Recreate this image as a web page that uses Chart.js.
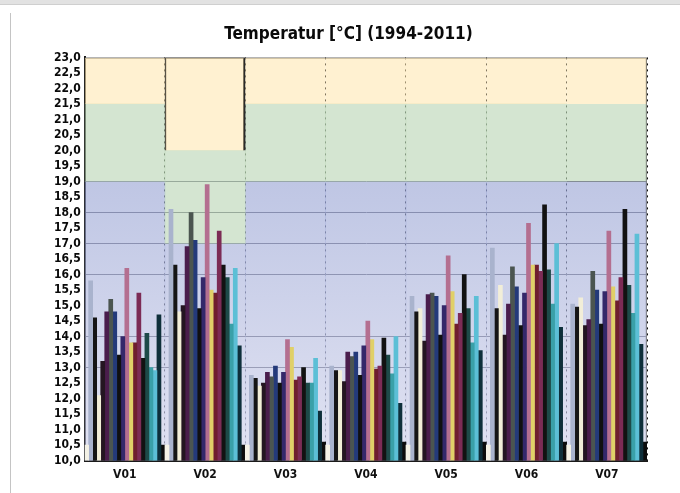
<!DOCTYPE html>
<html>
<head>
<meta charset="utf-8">
<script src="https://cdn.jsdelivr.net/npm/chart.js@4.4.1/dist/chart.umd.min.js"></script>
<style>
  html, body { margin: 0; padding: 0; background: #ffffff; }
  #wrap { position: relative; width: 680px; height: 493px; overflow: hidden; }
  #topstrip { position: absolute; left: 0; top: 0; width: 680px; height: 4px; background: #e2e2e2; border-bottom: 1px solid #cfcfcf; }
  #leftline { position: absolute; left: 10px; top: 13px; width: 1px; height: 480px; background: #c4c4c4; }
  canvas { position: absolute; left: 0; top: 0; }
</style>
</head>
<body>
<div id="wrap">
  <canvas id="c" width="680" height="493"></canvas>
  <div id="topstrip"></div>
  <div id="leftline"></div>
</div>
<script>
// ---- data ----
const categories = ['V01', 'V02', 'V03', 'V04', 'V05', 'V06', 'V07'];
const years = ['1994','1995','1996','1997','1998','1999','2000','2001','2002',
               '2003','2004','2005','2006','2007','2008','2009','2010','2011'];

// temperature per group (one value per year, 1994..2011)
const v01 = [15.8, 14.6, 12.1, 13.2, 14.8, 15.2, 14.8, 13.4, 14.0, 16.2, 13.8, 13.8, 15.4, 13.3, 14.1, 13.0, 12.9, 14.7];
const v02 = [18.1, 16.3, 14.8, 15.0, 16.9, 18.0, 17.1, 14.9, 15.9, 18.9, 15.5, 15.4, 17.4, 16.3, 15.9, 14.4, 16.2, 13.7];
const v03 = [12.75, 12.65, 12.4, 12.5, 12.85, 12.7, 13.05, 12.5, 12.85, 13.9, 13.65, 12.6, 12.7, 13.0, 12.5, 12.5, 13.3, 11.6];
const v04 = [13.05, 12.9, 12.9, 12.55, 13.5, 13.35, 13.5, 12.75, 13.7, 14.5, 13.9, 12.95, 13.05, 13.95, 13.4, 12.8, 14.0, 11.85];
const v05 = [15.3, 14.8, 14.9, 13.85, 15.35, 15.4, 15.3, 14.05, 15.0, 16.6, 15.45, 14.4, 14.75, 16.0, 14.9, 13.8, 15.3, 13.55];
const v06 = [16.85, 14.9, 15.65, 14.05, 15.05, 16.25, 15.6, 14.35, 15.4, 17.65, 16.3, 16.3, 16.1, 18.25, 16.15, 15.05, 17.0, 14.3];
const v07 = [15.05, 14.95, 15.25, 14.35, 14.55, 16.1, 15.5, 14.4, 15.45, 17.4, 15.6, 15.15, 15.9, 18.1, 15.65, 14.75, 17.3, 13.75];
const groupValues = [v01, v02, v03, v04, v05, v06, v07];

// short bars at the edges of each group
const edgeStart = [10.5, 10.5, 10.5, 10.5, 10.5, 10.5, 10.5];
const edgeEnd   = [10.5, 10.5, 10.6, 10.6, 10.6, 10.6, 10.6];

// background bands [from, to]
const bandYellow = [[21.5, 23], [20, 23], [21.5, 23], [21.5, 23], [21.5, 23], [21.5, 23], [21.5, 23]];
const bandGreen  = [[19, 21.5], [17, 20], [19, 21.5], [19, 21.5], [19, 21.5], [19, 21.5], [19, 21.5]];
const bandBlue   = [[10, 19], [10, 17], [10, 19], [10, 19], [10, 19], [10, 19], [10, 19]];

const yMin = 10, yMax = 23, yStep = 0.5;
const gridValues = [13, 14, 16, 17, 18, 19];

// ---- styles ----
const yearColors = ['#a9b3cd', '#151515', '#f2eed8', '#241521', '#4a1d4c', '#4b5550',
                    '#243a7a', '#101010', '#34286a', '#b46f90', '#e0d068', '#6e1e2e',
                    '#7c2b55', '#121212', '#1d4a48', '#3aa0a8', '#5cbfd6', '#0e2f3a'];
const FONT = "'DejaVu Sans Condensed', 'DejaVu Sans', sans-serif";

function bandBorder(extra) {
  return (ctx) => {
    const i = ctx.dataIndex;
    const last = categories.length - 1;
    return Object.assign({ top: 0, bottom: 0, left: 0, right: i === last ? 1 : 0 }, extra(i));
  };
}

const bandCommon = {
  grouped: false, order: 2, barPercentage: 1, categoryPercentage: 1,
  borderSkipped: false, borderColor: '#7a7a7a'
};

const datasets = [
  Object.assign({}, bandCommon, {
    label: 'gelb', data: bandYellow,
    backgroundColor: 'rgba(255,232,178,0.6)',
    borderColor: (ctx) => ctx.dataIndex === 1 ? '#2a2a2a' : '#6a6a6a',
    borderWidth: bandBorder(i => i === 1 ? { top: 1, left: 1, right: 2 } : { top: 1 })
  }),
  Object.assign({}, bandCommon, {
    label: 'grün', data: bandGreen,
    backgroundColor: 'rgba(183,212,178,0.6)',
    borderWidth: bandBorder(i => ({}))
  }),
  Object.assign({}, bandCommon, {
    label: 'blau', data: bandBlue,
    backgroundColor: (ctx) => {
      const ch = ctx.chart, ca = ch.chartArea;
      if (!ca || !ch.scales.y) return 'rgba(175,182,220,0.6)';
      const g = ch.ctx.createLinearGradient(0, ch.scales.y.getPixelForValue(19), 0, ca.bottom);
      g.addColorStop(0, 'rgba(148,160,210,0.6)');
      g.addColorStop(1, 'rgba(205,208,234,0.6)');
      return g;
    },
    borderWidth: bandBorder(i => ({}))
  }),
  { label: 'a', data: edgeStart, backgroundColor: '#f4f2e6', order: 1,
    barPercentage: 1, categoryPercentage: 1, borderWidth: 0 }
];
years.forEach((y, k) => {
  datasets.push({
    label: y,
    data: groupValues.map(g => g[k]),
    backgroundColor: yearColors[k],
    order: 1, barPercentage: 1, categoryPercentage: 1, borderWidth: 0
  });
});
datasets.push({ label: 'b', data: edgeEnd, backgroundColor: '#0c0c0c', order: 1,
  barPercentage: 1, categoryPercentage: 1, borderWidth: 0 });

new Chart(document.getElementById('c'), {
  type: 'bar',
  data: { labels: categories, datasets },
  options: {
    responsive: false,
    animation: false,
    layout: { padding: { left: 50, right: 33, top: 10, bottom: 4 } },
    plugins: {
      legend: { display: false },
      tooltip: { enabled: false },
      title: {
        display: true,
        text: 'Temperatur [°C] (1994-2011)',
        color: '#0a0a0a',
        font: { family: FONT, size: 17, weight: 'bold' },
        padding: { top: 14, bottom: 13 }
      }
    },
    scales: {
      x: {
        z: 1,
        grid: { display: true, offset: true, color: '#111111', lineWidth: 1, drawTicks: false },
        border: { display: true, color: '#1a1a1a', width: 2, dash: [2, 4] },
        ticks: { color: '#111', padding: 7, font: { family: FONT, size: 12, weight: 'bold' } }
      },
      y: {
        min: yMin, max: yMax,
        grid: {
          drawTicks: false,
          color: (ctx) => (ctx.tick && gridValues.includes(ctx.tick.value)) ? '#6a6b78' : 'rgba(0,0,0,0)',
          lineWidth: 1
        },
        border: { display: true, color: '#1a1a1a', width: 2 },
        ticks: {
          stepSize: yStep, autoSkip: false, padding: 4, color: '#0a0a0a',
          font: { family: FONT, size: 12, weight: 'bold' },
          callback: (v) => Number(v).toFixed(1).replace('.', ',')
        }
      }
    }
  }
});
</script>
</body>
</html>
